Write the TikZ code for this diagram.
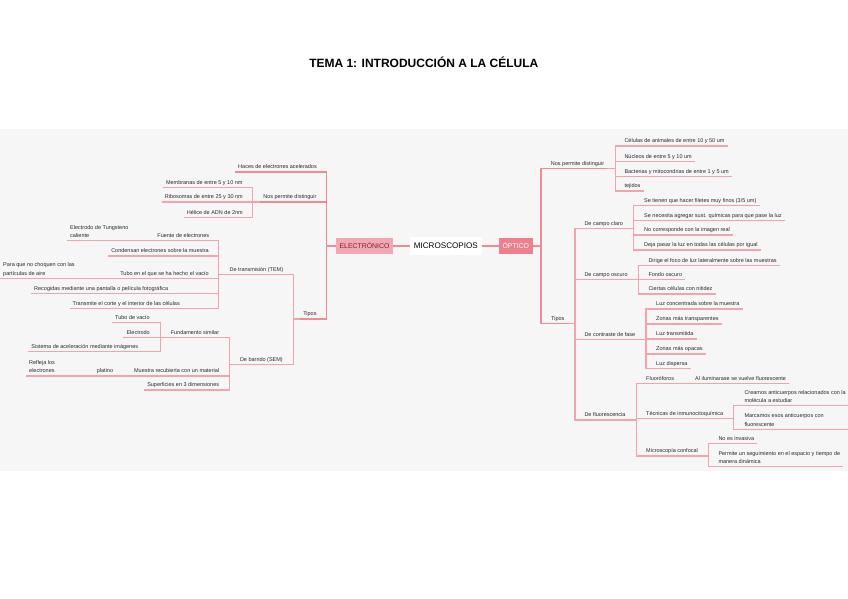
\documentclass[tikz,border=0pt]{standalone}
\usepackage{fontspec}
\setmainfont{Liberation Sans}
\definecolor{lnk}{HTML}{F4A2AD}
\definecolor{lnkd}{HTML}{F08A97}
\definecolor{bgc}{HTML}{F6F6F6}
\definecolor{elfill}{HTML}{F5A7B1}
\definecolor{eltext}{HTML}{6E2A31}
\definecolor{opfill}{HTML}{EE7F8C}
\definecolor{txt}{HTML}{2A2A2A}
\newcommand\lastdp{\rule[-1.3pt]{0pt}{1pt}}
\tikzset{
 t/.style={font=\fontsize{5.5}{8.3}\selectfont, inner xsep=3pt, inner ysep=1.6pt, align=left, execute at end node=\lastdp, text=txt},
 rn/.style={t, anchor=south west},
 ln/.style={t, anchor=south east},
 ul/.style={draw=lnk, line width=1.1pt},
 ul1/.style={draw=lnkd, line width=1.6pt},
 ctr/.style={draw=lnkd, line width=2pt},
 box/.style={inner sep=0pt, minimum height=16pt},
}
\begin{document}
\begin{tikzpicture}[x=1pt,y=-1pt]
\useasboundingbox (0,0) rectangle (848,599);
\fill[bgc] (0,128.7) rectangle (848,470.5);

\node[font=\fontsize{12}{14}\selectfont\bfseries] (title) at (423.8,62) {TEMA 1: INTRODUCCIÓN A LA CÉLULA};

% centre
\node[box, fill=white, minimum width=71.7pt, minimum height=18pt, font=\fontsize{8.1}{9}\selectfont] (mic) at (445.8,246) {MICROSCOPIOS};
\node[box, fill=elfill, minimum width=57pt, text=eltext, font=\fontsize{6.9}{8}\selectfont] (el) at (364.5,246) {ELECTRÓNICO};
\node[box, fill=opfill, minimum width=33.5pt, text=white, font=\fontsize{6.9}{8}\selectfont] (op) at (515.75,246) {ÓPTICO};
\draw[ctr] (el) -- (mic);
\draw[ctr] (mic) -- (op);

% ---------------- left side ----------------
\node[ln] (hac) at (320,171.7) {Haces de electrones acelerados};
\node[ln] (npdl) at (319.7,202) {Nos permite distinguir};
\node[ln] (tipl) at (319.7,319) {Tipos};

\node[ln] (memb) at (245.7,187.3) {Membranas de entre 5 y 10 nm};
\node[ln] (ribo) at (246,202) {Ribosomas de entre 25 y 30 nm};
\node[ln] (heli) at (246,217.7) {Hélice de ADN de 2nm};

\node[ln] (tem) at (286.3,274.3) {De transmisión (TEM)};
\node[ln] (sem) at (286,364.3) {De barrido (SEM)};

\node[ln] (fue) at (212.3,240.7) {Fuente de electrones};
\node[rn] (eltu) at (67,240.7) {Electrodo de Tungsteno\\caliente};
\node[ln] (cond) at (212,256) {Condensan electrones sobre la muestra};
\node[ln] (tubv) at (212,278.3) {Tubo en el que se ha hecho el vacío};
\node[rn] (para) at (0,278.3) {Para que no choquen con las\\partículas de aire};
\node[ln] (reco) at (171.3,293.3) {Recogidas mediante una pantalla o película fotográfica};
\node[ln] (tran) at (183,308.3) {Transmite el corte y el interior de las células};

\node[ln] (fund) at (222.3,337.7) {Fundamento similar};
\node[ln] (tvac) at (153,322.7) {Tubo de vacío};
\node[ln] (elec) at (153,337.7) {Electrodo};
\node[ln] (sist) at (141.3,351.7) {Sistema de aceleración mediante imágenes};
\node[ln] (mues) at (222.3,376) {Muestra recubierta con un material};
\node[ln] (plat) at (116.3,376) {platino};
\node[rn] (refl) at (26,376) {Refleja los\\electrones};
\node[ln] (supe) at (222.3,390) {Superficies en 3 dimensiones};

\foreach \c in {hac,npdl,tipl} \draw[ul1] (el.west) -- ++(-9.3,0) |- (\c.south east);
\foreach \c in {memb,ribo,heli} \draw[ul] (npdl.south west) -- ++(-7.5,0) |- (\c.south east);
\foreach \c in {tem,sem} \draw[ul] (tipl.south west) -- ++(-7,0) |- (\c.south east);
\foreach \c in {fue,cond,tubv,reco,tran} \draw[ul] (tem.south west) -- ++(-7.5,0) |- (\c.south east);
\foreach \c in {fund,mues,supe} \draw[ul] (sem.south west) -- ++(-7,0) |- (\c.south east);
\foreach \c in {tvac,elec,sist} \draw[ul] (fund.south west) -- ++(-7.5,0) |- (\c.south east);
\draw[ul] (fue.south west) -- (eltu.south east);
\draw[ul] (tubv.south west) -- (para.south east);
\draw[ul] (mues.south west) -- (plat.south east);
\draw[ul] (plat.south west) -- (refl.south east);

% ---------------- right side ----------------
\node[rn] (npdr) at (547.7,168.3) {Nos permite distinguir};
\node[rn] (tipr) at (548,323.3) {Tipos};

\node[rn] (celu) at (621.3,146) {Células de animales de entre 10 y 50 um};
\node[rn] (nucl) at (621.3,161.7) {Núcleos de entre 5 y 10 um};
\node[rn] (bact) at (621.3,176.7) {Bacterias y mitocondrias de entre 1 y 5 um};
\node[rn] (teji) at (621.3,191) {tejidos};

\node[rn] (ccla) at (581.3,228.3) {De campo claro};
\node[rn] (tien) at (641,205.7) {Se tienen que hacer filetes muy finos (3/5 um)};
\node[rn] (nece) at (641,220.7) {Se necesita agregar sust. químicas para que pase la luz};
\node[rn] (corr) at (641,235) {No corresponde con la imagen real};
\node[rn] (deja) at (641,250) {Deja pasar la luz en todas las células por igual};

\node[rn] (cosc) at (581.3,279.3) {De campo oscuro};
\node[rn] (diri) at (645.3,265.3) {Dirige el foco de luz lateralmente sobre las muestras};
\node[rn] (fond) at (645.3,279.3) {Fondo oscuro};
\node[rn] (cier) at (645.3,294) {Ciertas células con nitidez};

\node[rn] (cont) at (581.3,339.3) {De contraste de fase};
\node[rn] (lcon) at (653,309) {Luz concentrada sobre la muestra};
\node[rn] (ztra) at (653,324) {Zonas más transparentes};
\node[rn] (ltra) at (653,339) {Luz transmitida};
\node[rn] (zopa) at (653,354) {Zonas más opacas};
\node[rn] (ldis) at (653,368.7) {Luz dispersa};

\node[rn] (fluo) at (581.3,420) {De fluorescencia};
\node[rn] (flor) at (643,383.3) {Fluoróforos};
\node[rn] (ilum) at (692,383.3) {Al iluminarase se vuelve fluorescente};
\node[rn] (tecn) at (643,418.3) {Técnicas de inmunocitoquímica};
\node[rn] (crea) at (741.3,405.7) {Creamos anticuerpos relacionados con la\\molécula a estudiar};
\node[rn] (marc) at (741.3,429.3) {Marcamos esos anticuerpos con\\fluorescente};
\node[rn] (conf) at (643,456) {Microscopía confocal};
\node[rn] (inva) at (715.3,443.3) {No es invasiva};
\node[rn] (perm) at (715.3,466.7) {Permite un seguimiento en el espacio y tiempo de\\manera dinámica};

\foreach \c in {npdr,tipr} \draw[ul1] (op.east) -- ++(8.2,0) |- (\c.south west);
\foreach \c in {celu,nucl,bact,teji} \draw[ul] (npdr.south east) -- ++(7.8,0) |- (\c.south west);
\foreach \c in {ccla,cosc,cont,fluo} \draw[ul] (tipr.south east) -- ++(7.3,0) |- (\c.south west);
\foreach \c in {tien,nece,corr,deja} \draw[ul] (ccla.south east) -- ++(7.5,0) |- (\c.south west);
\foreach \c in {diri,fond,cier} \draw[ul] (cosc.south east) -- ++(7.5,0) |- (\c.south west);
\foreach \c in {lcon,ztra,ltra,zopa,ldis} \draw[ul] (cont.south east) -- ++(7.5,0) |- (\c.south west);
\foreach \c in {flor,tecn,conf} \draw[ul] (fluo.south east) -- ++(7.5,0) |- (\c.south west);
\draw[ul] (flor.south east) -- (ilum.south west);
\foreach \c in {crea,marc} \draw[ul] (tecn.south east) -- ++(7,0) |- (\c.south west);
\foreach \c in {inva,perm} \draw[ul] (conf.south east) -- ++(7.5,0) |- (\c.south west);

% underlines
\foreach \n in {hac,npdl,tipl,npdr,tipr} \draw[ul1] (\n.south west) -- (\n.south east);
\foreach \n in {memb,ribo,heli,tem,sem,fue,eltu,cond,tubv,para,reco,tran,fund,tvac,elec,sist,mues,plat,refl,supe,celu,nucl,bact,teji,ccla,tien,nece,corr,deja,cosc,diri,fond,cier,cont,lcon,ztra,ltra,zopa,ldis,fluo,flor,ilum,tecn,crea,marc,conf,inva,perm}
  \draw[ul] (\n.south west) -- (\n.south east);
\draw[ul] (marc.south west) -- (marc.south west -| crea.south east);
\end{tikzpicture}
\end{document}
